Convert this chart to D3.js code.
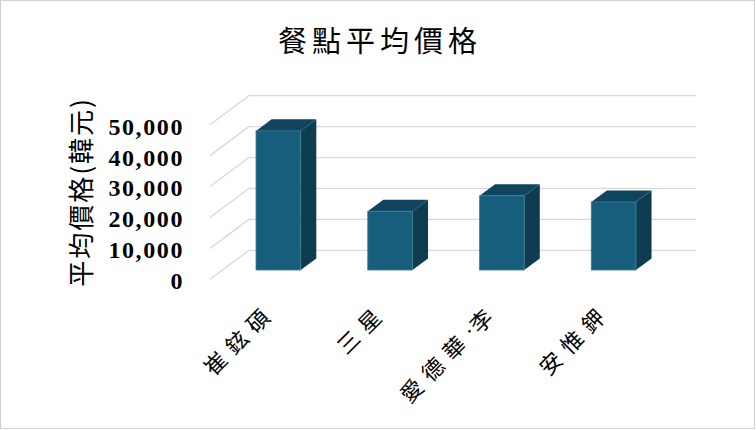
<!DOCTYPE html>
<html>
<head>
<meta charset="utf-8">
<script src="https://cdn.jsdelivr.net/npm/d3@7"></script>
<style>
  body { margin: 0; background: #fff; }
</style>
</head>
<body>
<div id="chart"></div>
<script>
// Chart data
var chartTitle = "餐點平均價格";
var yTitle = "平均價格(韓元)";
var chefs = ["崔鉉碩", "三星", "愛德華·李", "安惟鉀"];
var prices = [45000, 19000, 24000, 22000];
var tickValues = [0, 10000, 20000, 30000, 40000, 50000];
var tickLabels = ["0", "10,000", "20,000", "30,000", "40,000", "50,000"];

// Step 1: set up the 3D-ish plot area
var svgWidth = 756;
var svgHeight = 430;

var wallLeft = 249, wallRight = 696;   // back wall
var wallBottom = 250.3, wallTop = 95.7;
var depthX = 39, depthY = 29;          // floor depth (back -> front)
var barFront = 0.68, barBack = 0.28;   // where the bars sit in the depth

var cjk = "'Noto Sans CJK TC', 'Noto Sans CJK SC', sans-serif";

var svg = d3.select("#chart")
  .append("svg")
  .attr("width", svgWidth)
  .attr("height", svgHeight);

// outer frame
svg.append("rect")
  .attr("x", 0.5).attr("y", 0.5)
  .attr("width", svgWidth - 2).attr("height", svgHeight - 2)
  .attr("fill", "#fff")
  .attr("stroke", "#d0d0d0");

// Step 2: scales
var y = d3.scaleLinear()
  .domain([0, 50000])
  .range([wallBottom, wallTop]);

var yFront = y.copy().range([wallBottom + depthY, wallTop + depthY]);

var x = d3.scaleBand()
  .domain(chefs)
  .range([wallLeft - barFront * depthX, wallRight - barFront * depthX])
  .paddingInner(0.6)
  .paddingOuter(0.3);

// Step 3: gridlines on back wall and side wall
var grid = svg.append("g").attr("stroke", "#d9d9d9").attr("stroke-width", 1.3);

grid.selectAll(".back")
  .data(tickValues)
  .enter()
  .append("line")
  .attr("x1", wallLeft)
  .attr("x2", wallRight)
  .attr("y1", d => y(d))
  .attr("y2", d => y(d));

grid.selectAll(".side")
  .data(tickValues)
  .enter()
  .append("line")
  .attr("x1", wallLeft - depthX)
  .attr("y1", d => yFront(d))
  .attr("x2", wallLeft)
  .attr("y2", d => y(d));

// Step 4: bars (front, side, top)
var dx = (barFront - barBack) * depthX;
var dy = (barFront - barBack) * depthY;
var off = barFront * depthY;
var bw = x.bandwidth();

var bars = svg.selectAll(".bar")
  .data(chefs)
  .enter()
  .append("g");

bars.append("polygon")
  .attr("fill", "#0e3d52")
  .attr("points", (d, i) => {
    var x0 = x(d) + bw, top = y(prices[i]) + off, bot = y(0) + off;
    return [[x0, bot], [x0, top], [x0 + dx, top - dy], [x0 + dx, bot - dy]].join(" ");
  });

bars.append("polygon")
  .attr("fill", "#104560")
  .attr("points", (d, i) => {
    var x0 = x(d), top = y(prices[i]) + off;
    return [[x0, top], [x0 + bw, top], [x0 + bw + dx, top - dy], [x0 + dx, top - dy]].join(" ");
  });

bars.append("rect")
  .attr("fill", "#165e7c")
  .attr("stroke", "#3f7f99")
  .attr("stroke-width", 0.8)
  .attr("x", d => x(d))
  .attr("width", bw)
  .attr("y", (d, i) => y(prices[i]) + off)
  .attr("height", (d, i) => y(0) - y(prices[i]));

// Step 5: axes
var yAxis = svg.append("g")
  .attr("transform", "translate(184,1)")
  .call(d3.axisLeft(yFront)
    .tickValues(tickValues)
    .tickSize(0)
    .tickPadding(0)
    .tickFormat((d, i) => tickLabels[i]));
yAxis.select(".domain").remove();
yAxis.selectAll("text")
  .attr("dy", "0.35em")
  .attr("font-family", "'Liberation Serif', serif")
  .attr("font-weight", "bold")
  .attr("font-size", 24)
  .attr("letter-spacing", 1.6)
  .attr("fill", "#000");

var xAxis = svg.append("g")
  .attr("transform", "translate(0,312)")
  .call(d3.axisBottom(x).tickSize(0));
xAxis.select(".domain").remove();
xAxis.selectAll("text")
  .attr("y", 0)
  .attr("dy", 0)
  .attr("dx", 8)
  .attr("dominant-baseline", "central")
  .attr("text-anchor", "end")
  .attr("transform", "translate(-14,0) rotate(-45)")
  .attr("font-family", cjk)
  .attr("font-size", 22)
  .attr("fill", "#000")
  .each(function(d) {
    // one tspan per character so the middle dot stays narrow
    var t = d3.select(this).text(null);
    Array.from(d).forEach(function(ch) {
      var sp = t.append("tspan").text(ch);
      if (ch === "·") {
        sp.attr("font-family", "'Liberation Serif', serif").attr("letter-spacing", 1);
      } else {
        sp.attr("letter-spacing", 8);
      }
    });
  });

// Step 6: titles
svg.append("text")
  .attr("x", 380)
  .attr("y", 39)
  .attr("text-anchor", "middle")
  .attr("dominant-baseline", "central")
  .attr("font-family", cjk)
  .attr("font-size", 29)
  .attr("letter-spacing", 5)
  .attr("fill", "#000")
  .text(chartTitle);

svg.append("text")
  .attr("transform", "translate(79,192) rotate(-90)")
  .attr("text-anchor", "middle")
  .attr("dominant-baseline", "central")
  .attr("font-family", cjk)
  .attr("font-size", 26)
  .attr("letter-spacing", 2)
  .attr("fill", "#000")
  .text(yTitle);
</script>
</body>
</html>
